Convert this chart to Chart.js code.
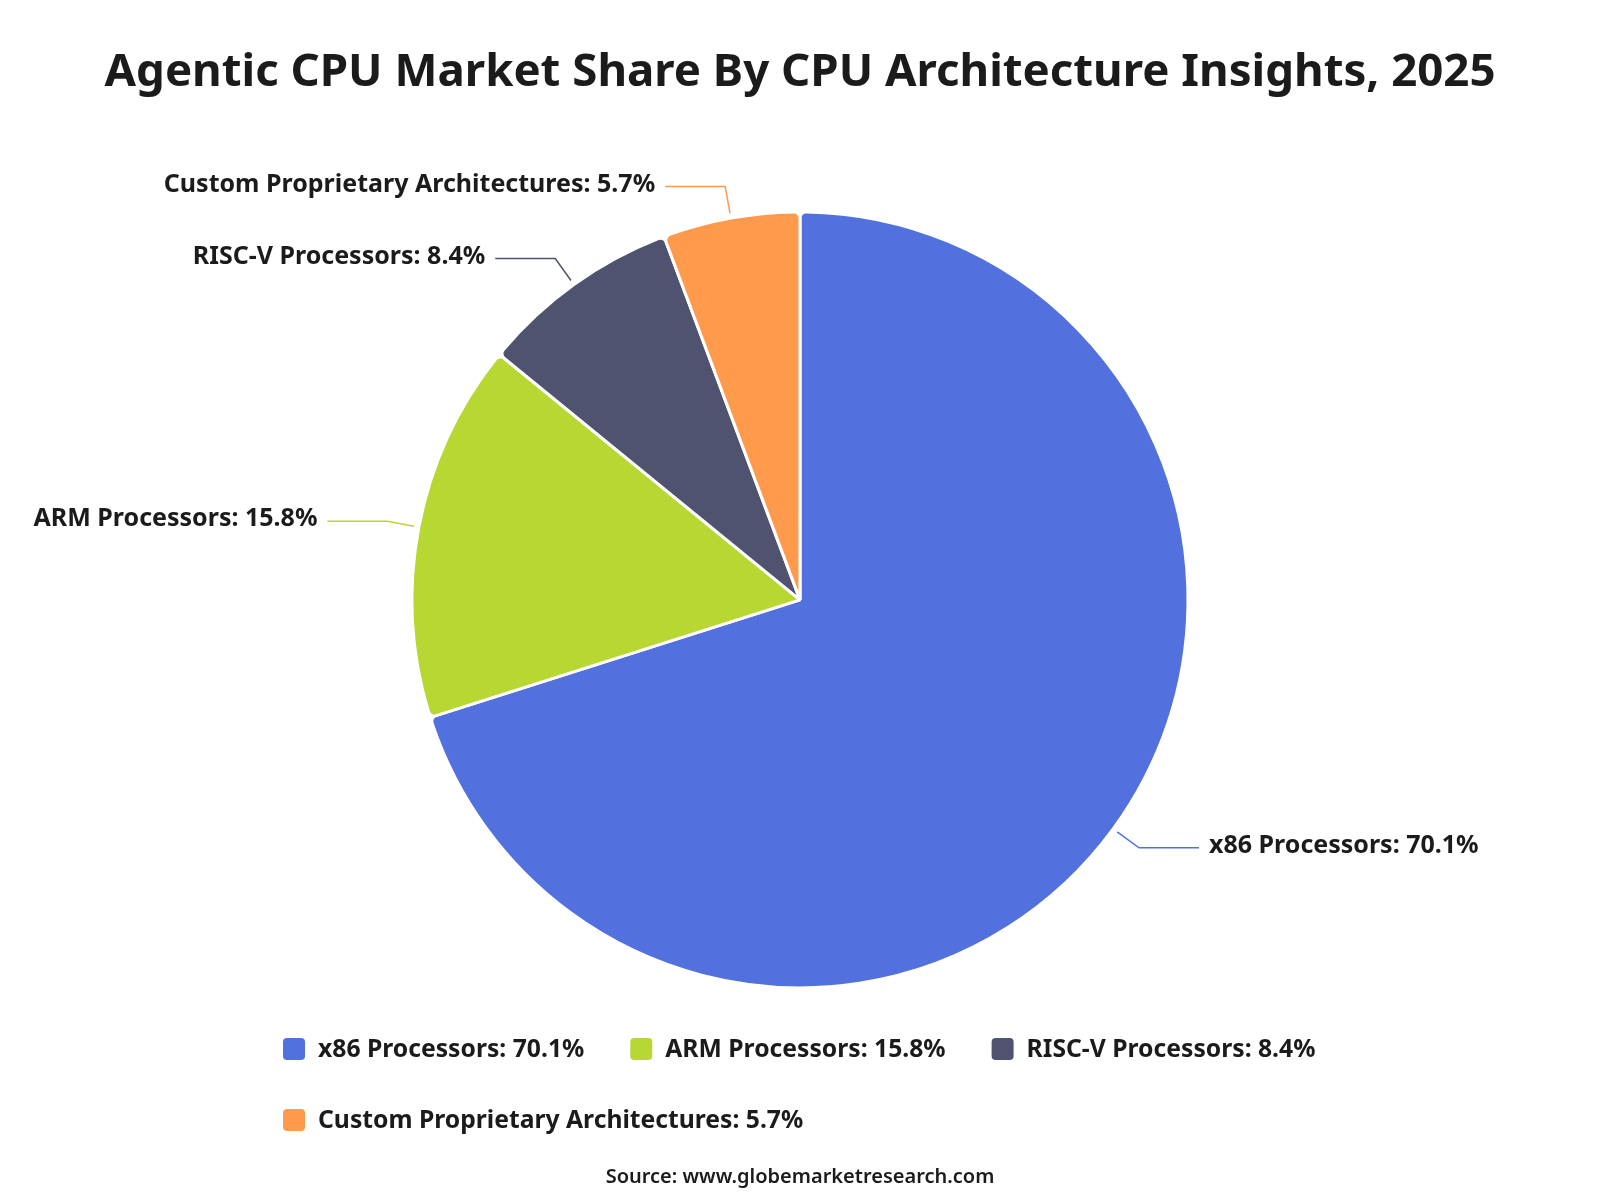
<!DOCTYPE html>
<html lang="en">
	<head>
		<meta charset="utf-8"/>
		<title>Agentic CPU Market Share</title>
		<script src="https://cdn.jsdelivr.net/npm/chart.js@4.4.1/dist/chart.umd.min.js"></script>
		<style>
			body {
				margin: 0;
				background-color: #ffffff;
			}
			.wrap {
				width: 1600px;
				height: 1200px;
			}
		</style>
	</head>

	<body>
		<div class="wrap">
			<canvas id="myChart" width="1600" height="1200"></canvas>
		</div>

		<script>
			// values
			const categories = ['x86 Processors', 'ARM Processors', 'RISC-V Processors', 'Custom Proprietary Architectures'];
			const shares = [70.1, 15.8, 8.4, 5.7];
			const sliceColors = ['#5271DE', '#B7D733', '#50536F', '#FF9A4D'];

			const FONT = "'Noto Sans', 'Open Sans', sans-serif";
			const TEXT = '#1b1b1b';

			function labelText(i) {
				return categories[i] + ': ' + shares[i] + '%';
			}

			// leader lines + labels outside the pie
			const outerLabels = {
				id: 'outerLabels',
				afterDatasetsDraw(chart) {
					const ctx = chart.ctx;
					const meta = chart.getDatasetMeta(0);
					ctx.save();
					ctx.font = 'bold 25px ' + FONT;
					ctx.textBaseline = 'middle';
					meta.data.forEach((arc, i) => {
						const p = arc.getProps(['x', 'y', 'startAngle', 'endAngle', 'outerRadius']);
						const mid = (p.startAngle + p.endAngle) / 2;
						const cos = Math.cos(mid), sin = Math.sin(mid);
						const x1 = p.x + cos * (p.outerRadius + 5), y1 = p.y + sin * (p.outerRadius + 5);
						const x2 = p.x + cos * (p.outerRadius + 32), y2 = p.y + sin * (p.outerRadius + 32);
						const right = cos >= 0;
						const x3 = x2 + (right ? 60 : -60);
						ctx.strokeStyle = sliceColors[i];
						ctx.lineWidth = 1.5;
						ctx.beginPath();
						ctx.moveTo(x1, y1);
						ctx.lineTo(x2, y2);
						ctx.lineTo(x3, y2);
						ctx.stroke();
						ctx.fillStyle = TEXT;
						ctx.textAlign = right ? 'left' : 'right';
						ctx.fillText(labelText(i), x3 + (right ? 10 : -10), y2 - 2);
					});
					ctx.restore();
				}
			};

			// legend under the pie, rows start at the same left edge
			const bottomLegend = {
				id: 'bottomLegend',
				afterDraw(chart) {
					const ctx = chart.ctx;
					ctx.save();
					ctx.font = 'bold 24.7px ' + FONT;
					ctx.textBaseline = 'middle';
					ctx.textAlign = 'left';
					const left = 283, maxRight = 1345, rows = [1049, 1120];
					let x = left, row = 0;
					categories.forEach((c, i) => {
						const t = labelText(i);
						const w = 35 + ctx.measureText(t).width;
						if (x > left && x + w > maxRight) {
							row++;
							x = left;
						}
						const y = rows[row];
						ctx.fillStyle = sliceColors[i];
						ctx.beginPath();
						ctx.roundRect(x, y - 11, 22, 22, 4);
						ctx.fill();
						ctx.fillStyle = TEXT;
						ctx.fillText(t, x + 35, y + 1);
						x += w + 46;
					});
					ctx.restore();
				}
			};

			let ch1 = document.getElementById('myChart').getContext('2d');
			let chart1 = new Chart(ch1, {
				type: 'pie',
				data: {
					labels: categories,
					datasets: [{
						data: shares,
						backgroundColor: sliceColors,
						borderColor: '#ffffff',
						borderWidth: 3,
						borderRadius: 6
					}]
				},
				options: {
					responsive: false,
					animation: false,
					radius: 388,
					layout: { padding: 0 },
					plugins: {
						legend: { display: false },
						tooltip: { enabled: false },
						title: {
							display: true,
							text: 'Agentic CPU Market Share By CPU Architecture Insights, 2025',
							color: TEXT,
							font: { family: FONT, size: 45.6, weight: 'bold' },
							padding: { top: 46, bottom: 111 }
						},
						subtitle: {
							display: true,
							position: 'bottom',
							text: 'Source: www.globemarketresearch.com',
							color: TEXT,
							font: { family: FONT, size: 20, weight: '600' },
							padding: { top: 177, bottom: 11 }
						}
					}
				},
				plugins: [outerLabels, bottomLegend]
			});
		</script>
	</body>
</html>
